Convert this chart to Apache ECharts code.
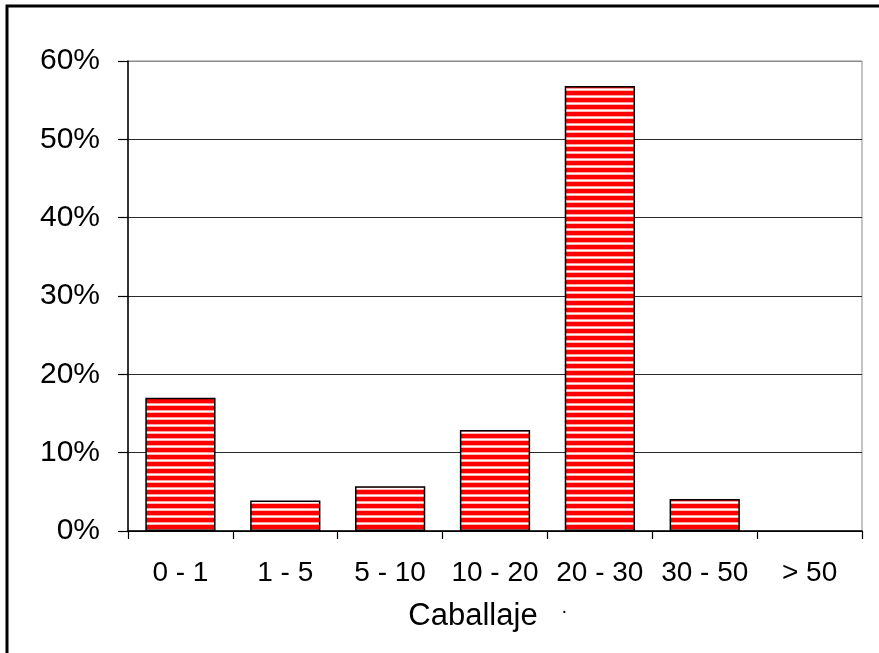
<!DOCTYPE html>
<html>
<head>
<meta charset="utf-8">
<script src="https://cdn.jsdelivr.net/npm/echarts@6/dist/echarts.min.js"></script>
<style>
  html, body { margin: 0; padding: 0; background: #fff; }
  #chart { width: 879px; height: 653px; }
</style>
</head>
<body>
<div id="chart"></div>
<script>
// Horsepower ranges and share of units in each range
const categories = ['0 - 1', '1 - 5', '5 - 10', '10 - 20', '20 - 30', '30 - 50', '> 50'];
const shares = [0.170, 0.039, 0.057, 0.129, 0.568, 0.041, 0];
const yTicks = [0, 0.1, 0.2, 0.3, 0.4, 0.5, 0.6];
const axisTitle = 'Caballaje';

// Horizontal red/white stripe fill for the bars
function stripePattern() {
  const c = document.createElement('canvas');
  c.width = 4;
  c.height = 7;
  const ctx = c.getContext('2d');
  const rows = ['#ff0000', '#ff0000', '#ff0000', '#ff0000', '#ffa0a0', '#ffffff', '#ffb4b4'];
  rows.forEach((col, i) => { ctx.fillStyle = col; ctx.fillRect(0, i, 4, 1); });
  return c;
}

const stripes = stripePattern();
// Empty ranges get no outline so nothing shows on the axis
const barData = shares.map(v => ({
  value: v,
  itemStyle: v === 0 ? { borderWidth: 0 } : {}
}));

const chart = echarts.init(document.getElementById('chart'), null, { renderer: 'canvas' });
const font = 'Liberation Sans, Arial, sans-serif';

chart.setOption({
  animation: false,
  backgroundColor: '#ffffff',
  grid: {
    left: 128, right: 17, top: 61, bottom: 122,
    show: true, borderColor: '#8a8a8a', borderWidth: 1, backgroundColor: 'transparent'
  },
  xAxis: {
    type: 'category',
    data: categories,
    boundaryGap: true,
    axisLine: { lineStyle: { color: '#000', width: 1.5 } },
    axisTick: { show: true, alignWithLabel: false, length: 8, lineStyle: { color: '#000', width: 1.2 } },
    axisLabel: { color: '#000', fontFamily: font, fontSize: 28, margin: 28, interval: 0 },
    name: axisTitle,
    nameLocation: 'middle',
    nameGap: 70,
    nameTextStyle: { color: '#000', fontFamily: font, fontSize: 31, padding: [0, 44, 0, 0] }
  },
  yAxis: {
    type: 'value',
    min: yTicks[0],
    max: yTicks[yTicks.length - 1],
    interval: 0.1,
    axisLine: { show: true, lineStyle: { color: '#000', width: 1.5 } },
    axisTick: { show: true, length: 10, lineStyle: { color: '#000', width: 1.2 } },
    axisLabel: {
      color: '#000', fontFamily: font, fontSize: 30, margin: 28,
      formatter: v => Math.round(v * 100) + '%'
    },
    splitLine: {
      show: true,
      lineStyle: { color: ['#000', '#2a2a2a', '#2a2a2a', '#2a2a2a', '#2a2a2a', '#2a2a2a', '#8a8a8a'], width: 1.2 }
    }
  },
  series: [{
    type: 'bar',
    data: barData,
    barWidth: '67%',
    itemStyle: {
      color: { image: stripes, repeat: 'repeat' },
      borderColor: '#000',
      borderWidth: 1.5
    }
  }],
  graphic: [
    {
      type: 'rect',
      shape: { x: 7, y: 6, width: 900, height: 700 },
      style: { fill: 'none', stroke: '#000', lineWidth: 3 },
      silent: true
    },
    {
      type: 'text',
      left: 561, top: 601,
      style: { text: '·', fill: '#000', font: '20px ' + font },
      silent: true
    }
  ]
});
</script>
</body>
</html>
